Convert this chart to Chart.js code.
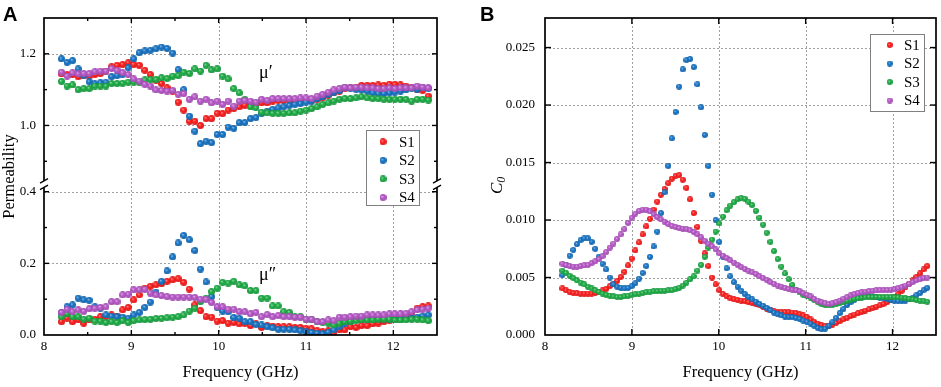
<!DOCTYPE html>
<html>
<head>
<meta charset="utf-8">
<script src="https://cdn.jsdelivr.net/npm/chart.js@4.4.0/dist/chart.umd.min.js"></script>
<style>
  html, body { margin: 0; padding: 0; background: #fff; }
  #wrap { position: relative; width: 941px; height: 387px; overflow: hidden; }
  #chartA { position: absolute; left: 0; top: 0; }
  #chartB { position: absolute; left: 470px; top: 0; }
</style>
</head>
<body>
<div id="wrap">
  <canvas id="chartA" width="470" height="387"></canvas>
  <canvas id="chartB" width="471" height="387"></canvas>
</div>
<script>
// series names / colours
const seriesNames = ['S1', 'S2', 'S3', 'S4'];
const seriesColors = ['#ff2222', '#1c78c8', '#22b04a', '#bb5ccc'];

// Panel A: frequency sweep (GHz)
const freqA = [
  8.2, 8.264, 8.327, 8.391, 8.455, 8.518, 8.582, 8.645, 8.709, 8.773, 8.836,
  8.9, 8.964, 9.027, 9.091, 9.155, 9.218, 9.282, 9.345, 9.409, 9.473, 9.536,
  9.6, 9.664, 9.727, 9.791, 9.855, 9.918, 9.982, 10.045, 10.109, 10.173, 10.236,
  10.3, 10.364, 10.427, 10.491, 10.555, 10.618, 10.682, 10.745, 10.809, 10.873, 10.936,
  11.0, 11.064, 11.127, 11.191, 11.255, 11.318, 11.382, 11.445, 11.509, 11.573, 11.636,
  11.7, 11.764, 11.827, 11.891, 11.955, 12.018, 12.082, 12.145, 12.209, 12.273, 12.336,
  12.4
];

// real part of permeability (mu')
const muRealS1 = [
  1.144, 1.142, 1.142, 1.136, 1.140, 1.138, 1.142, 1.145, 1.152, 1.164,
  1.168, 1.170, 1.175, 1.170, 1.168, 1.154, 1.142, 1.126, 1.117, 1.105,
  1.096, 1.065, 1.043, 1.012, 1.012, 1.000, 1.019, 1.019, 1.034, 1.033,
  1.043, 1.047, 1.052, 1.056, 1.061, 1.058, 1.063, 1.063, 1.068, 1.070,
  1.070, 1.071, 1.068, 1.070, 1.070, 1.071, 1.073, 1.077, 1.084, 1.091,
  1.096, 1.103, 1.105, 1.107, 1.112, 1.112, 1.112, 1.113, 1.112, 1.115,
  1.115, 1.113, 1.110, 1.107, 1.100, 1.098, 1.082
];
const muRealS2 = [
  1.186, 1.176, 1.181, 1.158, 1.140, 1.122, 1.116, 1.119, 1.121, 1.136,
  1.139, 1.143, 1.161, 1.186, 1.203, 1.208, 1.210, 1.214, 1.219, 1.215,
  1.202, 1.156, 1.100, 1.026, 0.984, 0.949, 0.956, 0.952, 0.975, 0.975,
  0.995, 0.992, 1.008, 1.008, 1.019, 1.022, 1.033, 1.040, 1.045, 1.049,
  1.052, 1.056, 1.059, 1.061, 1.065, 1.068, 1.075, 1.080, 1.087, 1.093,
  1.097, 1.105, 1.103, 1.101, 1.099, 1.096, 1.091, 1.089, 1.089, 1.091,
  1.093, 1.096, 1.099, 1.103, 1.101, 1.105, 1.103
];
const muRealS3 = [
  1.123, 1.110, 1.113, 1.100, 1.103, 1.103, 1.110, 1.110, 1.110, 1.117,
  1.117, 1.118, 1.121, 1.121, 1.121, 1.127, 1.128, 1.128, 1.133, 1.131,
  1.138, 1.139, 1.149, 1.145, 1.158, 1.152, 1.168, 1.155, 1.158, 1.138,
  1.130, 1.103, 1.091, 1.073, 1.052, 1.049, 1.037, 1.035, 1.034, 1.034,
  1.034, 1.035, 1.035, 1.040, 1.043, 1.047, 1.052, 1.059, 1.063, 1.068,
  1.073, 1.075, 1.075, 1.077, 1.080, 1.077, 1.075, 1.075, 1.073, 1.073,
  1.073, 1.073, 1.073, 1.068, 1.073, 1.073, 1.071
];
const muRealS4 = [
  1.149, 1.138, 1.147, 1.144, 1.145, 1.145, 1.150, 1.152, 1.152, 1.159,
  1.154, 1.147, 1.142, 1.130, 1.124, 1.115, 1.110, 1.099, 1.098, 1.096,
  1.098, 1.087, 1.089, 1.073, 1.080, 1.068, 1.073, 1.063, 1.068, 1.059,
  1.068, 1.054, 1.068, 1.070, 1.068, 1.065, 1.073, 1.070, 1.075, 1.075,
  1.075, 1.075, 1.075, 1.077, 1.077, 1.075, 1.082, 1.087, 1.093, 1.099,
  1.103, 1.107, 1.105, 1.107, 1.107, 1.105, 1.105, 1.103, 1.103, 1.105,
  1.103, 1.105, 1.105, 1.105, 1.110, 1.107, 1.105
];

// imaginary part of permeability (mu'')
const muImagS1 = [
  0.037, 0.047, 0.037, 0.042, 0.033, 0.042, 0.044, 0.051, 0.051, 0.056,
  0.053, 0.070, 0.077, 0.098, 0.112, 0.131, 0.136, 0.140, 0.143, 0.150,
  0.154, 0.157, 0.147, 0.128, 0.084, 0.068, 0.051, 0.050, 0.039, 0.040,
  0.033, 0.035, 0.031, 0.033, 0.026, 0.031, 0.021, 0.026, 0.025, 0.023,
  0.023, 0.023, 0.021, 0.021, 0.019, 0.017, 0.012, 0.009, 0.012, 0.005,
  0.014, 0.014, 0.023, 0.021, 0.026, 0.026, 0.031, 0.033, 0.037, 0.040,
  0.044, 0.047, 0.051, 0.061, 0.075, 0.079, 0.081
];
const muImagS2 = [
  0.062, 0.079, 0.084, 0.103, 0.098, 0.097, 0.079, 0.075, 0.056, 0.053,
  0.051, 0.050, 0.047, 0.056, 0.063, 0.077, 0.092, 0.120, 0.150, 0.179,
  0.218, 0.257, 0.278, 0.266, 0.236, 0.184, 0.148, 0.107, 0.077, 0.067,
  0.065, 0.049, 0.047, 0.037, 0.037, 0.030, 0.028, 0.023, 0.020, 0.016,
  0.016, 0.016, 0.014, 0.012, 0.009, 0.007, 0.005, 0.003, 0.008, 0.014,
  0.023, 0.033, 0.037, 0.042, 0.042, 0.043, 0.044, 0.045, 0.045, 0.044,
  0.043, 0.044, 0.045, 0.047, 0.050, 0.053, 0.056
];
const muImagS3 = [
  0.051, 0.059, 0.051, 0.051, 0.044, 0.047, 0.039, 0.039, 0.035, 0.037,
  0.035, 0.040, 0.035, 0.040, 0.042, 0.043, 0.044, 0.046, 0.047, 0.048,
  0.050, 0.051, 0.056, 0.067, 0.075, 0.093, 0.103, 0.121, 0.131, 0.147,
  0.145, 0.150, 0.140, 0.137, 0.124, 0.124, 0.103, 0.103, 0.081, 0.081,
  0.065, 0.063, 0.051, 0.051, 0.044, 0.042, 0.037, 0.035, 0.033, 0.028,
  0.033, 0.037, 0.039, 0.040, 0.042, 0.042, 0.042, 0.044, 0.044, 0.044,
  0.042, 0.042, 0.042, 0.044, 0.044, 0.042, 0.040
];
const muImagS4 = [
  0.063, 0.072, 0.065, 0.070, 0.066, 0.073, 0.075, 0.077, 0.079, 0.093,
  0.093, 0.112, 0.114, 0.126, 0.126, 0.128, 0.117, 0.112, 0.110, 0.107,
  0.106, 0.106, 0.106, 0.106, 0.105, 0.100, 0.100, 0.091, 0.079, 0.079,
  0.072, 0.072, 0.065, 0.065, 0.059, 0.063, 0.051, 0.057, 0.051, 0.054,
  0.051, 0.051, 0.050, 0.050, 0.044, 0.044, 0.037, 0.037, 0.042, 0.040,
  0.050, 0.050, 0.051, 0.053, 0.053, 0.056, 0.056, 0.056, 0.056, 0.059,
  0.059, 0.059, 0.061, 0.065, 0.070, 0.072, 0.075
];

// Panel B: frequency sweep (GHz)
const freqB = [
  8.200, 8.242, 8.284, 8.326, 8.368, 8.410, 8.452, 8.494, 8.536, 8.578,
  8.620, 8.662, 8.704, 8.746, 8.788, 8.830, 8.872, 8.914, 8.956, 8.998,
  9.040, 9.082, 9.124, 9.166, 9.208, 9.250, 9.292, 9.334, 9.376, 9.418,
  9.460, 9.502, 9.544, 9.586, 9.628, 9.670, 9.712, 9.754, 9.796, 9.838,
  9.880, 9.922, 9.964, 10.006, 10.048, 10.090, 10.132, 10.174, 10.216, 10.258,
  10.300, 10.342, 10.384, 10.426, 10.468, 10.510, 10.552, 10.594, 10.636, 10.678,
  10.720, 10.762, 10.804, 10.846, 10.888, 10.930, 10.972, 11.014, 11.056, 11.098,
  11.140, 11.182, 11.224, 11.266, 11.308, 11.350, 11.392, 11.434, 11.476, 11.518,
  11.560, 11.602, 11.644, 11.686, 11.728, 11.770, 11.812, 11.854, 11.896, 11.938,
  11.980, 12.022, 12.064, 12.106, 12.148, 12.190, 12.232, 12.274, 12.316, 12.358,
  12.400
];

// C0 values
const c0S1 = [
  0.00405, 0.00388, 0.00372, 0.00365, 0.00362, 0.00360, 0.00360, 0.00360, 0.00360, 0.00365,
  0.00375, 0.00388, 0.00400, 0.00425, 0.00445, 0.00470, 0.00505, 0.00550, 0.00605, 0.00665,
  0.00735, 0.00805, 0.00875, 0.00945, 0.01010, 0.01090, 0.01160, 0.01220, 0.01270, 0.01320,
  0.01360, 0.01385, 0.01390, 0.01350, 0.01280, 0.01180, 0.01060, 0.00940, 0.00820, 0.00710,
  0.00600, 0.00500, 0.00440, 0.00390, 0.00355, 0.00335, 0.00320, 0.00310, 0.00305, 0.00300,
  0.00295, 0.00285, 0.00280, 0.00270, 0.00260, 0.00245, 0.00230, 0.00215, 0.00205, 0.00200,
  0.00200, 0.00198, 0.00198, 0.00195, 0.00190, 0.00180, 0.00170, 0.00155, 0.00135, 0.00115,
  0.00098, 0.00085, 0.00078, 0.00080, 0.00090, 0.00105, 0.00120, 0.00135, 0.00150, 0.00165,
  0.00178, 0.00190, 0.00200, 0.00212, 0.00222, 0.00235, 0.00245, 0.00258, 0.00270, 0.00285,
  0.00305, 0.00330, 0.00355, 0.00385, 0.00415, 0.00445, 0.00475, 0.00505, 0.00535, 0.00570,
  0.00600
];
const c0S2 = [
  0.00520, 0.00610, 0.00690, 0.00740, 0.00790, 0.00825, 0.00840, 0.00840, 0.00810, 0.00750,
  0.00680, 0.00620, 0.00570, 0.00500, 0.00440, 0.00420, 0.00410, 0.00405, 0.00410, 0.00425,
  0.00450, 0.00490, 0.00540, 0.00600, 0.00680, 0.00770, 0.00900, 0.01060, 0.01240, 0.01470,
  0.01710, 0.01940, 0.02160, 0.02310, 0.02390, 0.02400, 0.02330, 0.02180, 0.01980, 0.01740,
  0.01470, 0.01220, 0.01000, 0.00810, 0.00680, 0.00580, 0.00510, 0.00460, 0.00420, 0.00385,
  0.00355, 0.00330, 0.00310, 0.00290, 0.00270, 0.00255, 0.00235, 0.00215, 0.00195, 0.00180,
  0.00170, 0.00160, 0.00155, 0.00155, 0.00150, 0.00140, 0.00125, 0.00115, 0.00100, 0.00080,
  0.00060, 0.00050, 0.00055, 0.00080, 0.00110, 0.00150, 0.00190, 0.00225, 0.00260, 0.00285,
  0.00305, 0.00320, 0.00330, 0.00335, 0.00335, 0.00330, 0.00330, 0.00325, 0.00320, 0.00315,
  0.00305, 0.00300, 0.00295, 0.00295, 0.00300, 0.00310, 0.00325, 0.00345, 0.00365, 0.00390,
  0.00410
];
const c0S3 = [
  0.00560, 0.00540, 0.00515, 0.00495, 0.00475, 0.00455, 0.00440, 0.00420, 0.00405, 0.00390,
  0.00375, 0.00360, 0.00350, 0.00342, 0.00335, 0.00332, 0.00330, 0.00335, 0.00340, 0.00350,
  0.00355, 0.00360, 0.00365, 0.00372, 0.00378, 0.00380, 0.00382, 0.00385, 0.00385, 0.00388,
  0.00390, 0.00400, 0.00410, 0.00430, 0.00455, 0.00485, 0.00510, 0.00560, 0.00610, 0.00680,
  0.00760, 0.00830, 0.00900, 0.00970, 0.01030, 0.01085, 0.01125, 0.01155, 0.01180, 0.01190,
  0.01185, 0.01160, 0.01130, 0.01080, 0.01020, 0.00960, 0.00890, 0.00810, 0.00730, 0.00660,
  0.00595, 0.00535, 0.00485, 0.00435, 0.00395, 0.00370, 0.00350, 0.00340, 0.00325, 0.00305,
  0.00285, 0.00270, 0.00260, 0.00258, 0.00260, 0.00268, 0.00278, 0.00288, 0.00298, 0.00308,
  0.00315, 0.00320, 0.00325, 0.00328, 0.00330, 0.00330, 0.00330, 0.00330, 0.00330, 0.00330,
  0.00330, 0.00330, 0.00328, 0.00325, 0.00320, 0.00315, 0.00310, 0.00305, 0.00300, 0.00295,
  0.00290
];
const c0S4 = [
  0.00620, 0.00610, 0.00600, 0.00595, 0.00595, 0.00600, 0.00605, 0.00610, 0.00625, 0.00640,
  0.00660, 0.00685, 0.00720, 0.00760, 0.00795, 0.00835, 0.00875, 0.00920, 0.00975, 0.01020,
  0.01055, 0.01080, 0.01090, 0.01090, 0.01075, 0.01050, 0.01025, 0.01005, 0.00985, 0.00965,
  0.00950, 0.00940, 0.00930, 0.00925, 0.00920, 0.00910, 0.00895, 0.00875, 0.00850, 0.00820,
  0.00795, 0.00770, 0.00745, 0.00710, 0.00690, 0.00670, 0.00650, 0.00630, 0.00610, 0.00590,
  0.00575, 0.00560, 0.00545, 0.00530, 0.00510, 0.00495, 0.00480, 0.00460, 0.00445, 0.00430,
  0.00420, 0.00410, 0.00400, 0.00395, 0.00390, 0.00380, 0.00365, 0.00350, 0.00335, 0.00315,
  0.00300, 0.00285, 0.00275, 0.00270, 0.00275, 0.00285, 0.00300, 0.00315, 0.00330, 0.00345,
  0.00355, 0.00365, 0.00372, 0.00378, 0.00382, 0.00385, 0.00388, 0.00390, 0.00392, 0.00393,
  0.00395, 0.00397, 0.00405, 0.00415, 0.00430, 0.00445, 0.00460, 0.00475, 0.00485, 0.00495,
  0.00500
];

// ticks
const xTicks = [8, 9, 10, 11, 12];
const xMinorA = [8.5, 9.5, 10.5, 11.5];
const topTicks = [1.0, 1.2];
const topMinor = [0.9, 1.1];
const botTicks = [0.0, 0.2, 0.4];
const botMinor = [0.1, 0.3];
const c0Ticks = [0, 0.005, 0.01, 0.015, 0.02, 0.025];

const SERIF = "'Liberation Serif', 'Times New Roman', serif";
const SANS = "'Liberation Sans', Arial, sans-serif";
const GRID = '#a0a0a0';

function mix(hex, other, t) {
  const p = h => [1, 3, 5].map(i => parseInt(h.substr(i, 2), 16));
  const a = p(hex), b = p(other);
  return 'rgb(' + a.map((v, i) => Math.round(v + (b[i] - v) * t)).join(',') + ')';
}

// small shaded ball used as marker
function sphere(hex, d) {
  const c = document.createElement('canvas');
  c.width = d; c.height = d;
  const g = c.getContext('2d');
  const r = d / 2;
  const grad = g.createRadialGradient(r * 0.75, r * 0.7, 0, r, r, r);
  grad.addColorStop(0, mix(hex, '#ffffff', 0.6));
  grad.addColorStop(0.4, hex);
  grad.addColorStop(1, mix(hex, '#000000', 0.15));
  g.fillStyle = grad;
  g.beginPath();
  g.arc(r, r, r, 0, Math.PI * 2);
  g.fill();
  return c;
}

const ballsA = seriesColors.map(c => sphere(c, 7));
const ballsB = seriesColors.map(c => sphere(c, 6));

function pairs(xs, ys) {
  return xs.map((x, i) => ({ x: x, y: ys[i] }));
}

function line(ctx, x1, y1, x2, y2) {
  ctx.beginPath();
  ctx.moveTo(x1, y1);
  ctx.lineTo(x2, y2);
  ctx.stroke();
}

function fixTicks(values) {
  return scale => { scale.ticks = values.map(v => ({ value: v })); };
}

// inward tick marks on all four sides
function tickMarks(ctx, a, xs, xVals, len) {
  xVals.forEach(v => {
    const px = xs.getPixelForValue(v);
    line(ctx, px, a.bottom, px, a.bottom - len);
    line(ctx, px, a.top, px, a.top + len);
  });
}
function yTickMarks(ctx, a, ys, yVals, len) {
  yVals.forEach(v => {
    const py = ys.getPixelForValue(v);
    line(ctx, a.left, py, a.left + len, py);
    line(ctx, a.right, py, a.right - len, py);
  });
}

function breakMark(ctx, x, y) {
  ctx.save();
  ctx.strokeStyle = '#fff';
  ctx.lineWidth = 4;
  line(ctx, x, y - 3.5, x, y + 2.5);
  ctx.strokeStyle = '#000';
  ctx.lineWidth = 1.3;
  line(ctx, x - 4, y - 1.5, x + 4, y - 6);
  line(ctx, x - 4, y + 5, x + 4, y + 0.5);
  ctx.restore();
}

function drawLegend(ctx, box, rowY, gap, markX, textX, balls) {
  ctx.save();
  ctx.fillStyle = '#fff';
  ctx.fillRect(box[0], box[1], box[2], box[3]);
  ctx.strokeStyle = '#808080';
  ctx.lineWidth = 1;
  ctx.strokeRect(box[0] + 0.5, box[1] + 0.5, box[2], box[3]);
  ctx.font = '15px ' + SERIF;
  ctx.fillStyle = '#000';
  ctx.textBaseline = 'middle';
  seriesNames.forEach((n, k) => {
    const y = rowY + k * gap;
    const b = balls[k];
    ctx.drawImage(b, markX - b.width / 2, y - b.height / 2);
    ctx.fillText(n, textX, y + 1);
  });
  ctx.restore();
}

const decorA = {
  id: 'decorA',
  beforeDatasetsDraw(chart) {
    const { ctx, chartArea: a, scales: s } = chart;
    ctx.save();
    ctx.strokeStyle = GRID;
    ctx.lineWidth = 1;
    ctx.setLineDash([2, 2]);
    xTicks.slice(1).forEach(v => {
      const px = Math.round(s.x.getPixelForValue(v)) + 0.5;
      line(ctx, px, a.top, px, a.bottom);
    });
    topTicks.forEach(v => {
      const py = Math.round(s.yTop.getPixelForValue(v)) + 0.5;
      line(ctx, a.left, py, a.right, py);
    });
    botTicks.slice(1).forEach(v => {
      const py = Math.round(s.yBot.getPixelForValue(v)) + 0.5;
      line(ctx, a.left, py, a.right, py);
    });
    ctx.restore();
  },
  afterDatasetsDraw(chart) {
    const { ctx, chartArea: a, scales: s } = chart;
    drawLegend(ctx, [a.right - 71, 130, 53, 75], 141.7, 18.6, a.right - 54, a.right - 38, ballsA);

    ctx.save();
    ctx.strokeStyle = '#000';
    ctx.lineWidth = 1.7;
    ctx.strokeRect(a.left, a.top, a.right - a.left, a.bottom - a.top);
    ctx.lineWidth = 1.4;
    tickMarks(ctx, a, s.x, xTicks.slice(1), 5);
    tickMarks(ctx, a, s.x, xMinorA, 3);
    yTickMarks(ctx, a, s.yTop, topTicks, 5);
    yTickMarks(ctx, a, s.yTop, topMinor, 3);
    yTickMarks(ctx, a, s.yBot, botTicks.slice(1), 5);
    yTickMarks(ctx, a, s.yBot, botMinor, 3);
    const yb = s.yBot.top;
    breakMark(ctx, a.left, yb);
    breakMark(ctx, a.right, yb);

    ctx.fillStyle = '#000';
    ctx.font = '18px ' + SERIF;
    ctx.textAlign = 'center';
    ctx.textBaseline = 'middle';
    ctx.fillText('\u03bc\u2032', s.x.getPixelForValue(10.54), s.yTop.getPixelForValue(1.145));
    ctx.fillText('\u03bc\u2033', s.x.getPixelForValue(10.56), s.yBot.getPixelForValue(0.168));

    ctx.save();
    ctx.translate(10, (a.top + a.bottom) / 2);
    ctx.rotate(-Math.PI / 2);
    ctx.font = '16.5px ' + SERIF;
    ctx.fillText('Permeability', 0, 0);
    ctx.restore();

    ctx.font = 'bold 20px ' + SANS;
    ctx.textAlign = 'left';
    ctx.textBaseline = 'alphabetic';
    ctx.fillText('A', 3, 21);
    ctx.restore();
  }
};

const decorB = {
  id: 'decorB',
  beforeDatasetsDraw(chart) {
    const { ctx, chartArea: a, scales: s } = chart;
    ctx.save();
    ctx.strokeStyle = GRID;
    ctx.lineWidth = 1;
    ctx.setLineDash([2, 2]);
    xTicks.slice(1).forEach(v => {
      const px = Math.round(s.x.getPixelForValue(v)) + 0.5;
      line(ctx, px, a.top, px, a.bottom);
    });
    c0Ticks.slice(1).forEach(v => {
      const py = Math.round(s.y.getPixelForValue(v)) + 0.5;
      line(ctx, a.left, py, a.right, py);
    });
    ctx.restore();
  },
  afterDatasetsDraw(chart) {
    const { ctx, chartArea: a, scales: s } = chart;
    drawLegend(ctx, [a.right - 66, 34, 54, 77], 45, 18.5, a.right - 46.3, a.right - 32, ballsB);

    ctx.save();
    ctx.strokeStyle = '#000';
    ctx.lineWidth = 1.7;
    ctx.strokeRect(a.left, a.top, a.right - a.left, a.bottom - a.top);
    ctx.lineWidth = 1.4;
    tickMarks(ctx, a, s.x, xTicks.slice(1), 6);
    yTickMarks(ctx, a, s.y, c0Ticks.slice(1), 6);

    ctx.fillStyle = '#000';
    ctx.save();
    ctx.translate(28, 186);
    ctx.rotate(-Math.PI / 2);
    ctx.textAlign = 'left';
    ctx.textBaseline = 'middle';
    ctx.font = 'italic 17px ' + SERIF;
    ctx.fillText('C', -8, 0);
    const w = ctx.measureText('C').width;
    ctx.font = 'italic 12px ' + SERIF;
    ctx.fillText('0', -8 + w, 4);
    ctx.restore();

    ctx.font = 'bold 20px ' + SANS;
    ctx.textAlign = 'left';
    ctx.textBaseline = 'alphabetic';
    ctx.fillText('B', 10, 21);
    ctx.restore();
  }
};

function xScale() {
  return {
    type: 'linear',
    min: 8,
    max: 12.5,
    afterBuildTicks: fixTicks(xTicks),
    afterFit: sc => { sc.height = 52; },
    ticks: { color: '#000', font: { family: SERIF, size: 13 }, padding: 4, autoSkip: false, maxRotation: 0,
             callback: v => String(v) },
    grid: { display: false, drawTicks: false },
    border: { display: false },
    title: { display: true, text: 'Frequency (GHz)', color: '#000',
             font: { family: SERIF, size: 16.5 }, padding: { top: 0, bottom: 4 } }
  };
}

function yScale(extra, values, digits, width, pad) {
  return Object.assign({
    type: 'linear',
    position: 'left',
    afterBuildTicks: fixTicks(values),
    afterFit: sc => { sc.width = width; },
    ticks: { color: '#000', font: { family: SERIF, size: 13 }, padding: pad,
             callback: v => v.toFixed(digits) },
    grid: { display: false, drawTicks: false },
    border: { display: false }
  }, extra);
}

const dsA = [];
seriesNames.forEach((n, k) => {
  dsA.push({ label: n, data: pairs(freqA, [muRealS1, muRealS2, muRealS3, muRealS4][k]), yAxisID: 'yTop',
             pointStyle: ballsA[k], order: 3 - k, showLine: false });
});
seriesNames.forEach((n, k) => {
  dsA.push({ label: n, data: pairs(freqA, [muImagS1, muImagS2, muImagS3, muImagS4][k]), yAxisID: 'yBot',
             pointStyle: ballsA[k], order: 3 - k, showLine: false });
});

new Chart(document.getElementById('chartA'), {
  type: 'scatter',
  data: { datasets: dsA },
  options: {
    responsive: false,
    animation: false,
    events: [],
    layout: { padding: { left: 0, right: 33, top: 18, bottom: 0 } },
    plugins: { legend: { display: false }, tooltip: { enabled: false } },
    scales: {
      x: xScale(),
      yTop: yScale({ min: 0.835, max: 1.3, stack: 'perm', stackWeight: 0.465, weight: 1 }, topTicks, 1, 44, 8),
      yBot: yScale({ min: 0, max: 0.42, stack: 'perm', stackWeight: 0.42, weight: 0 }, botTicks, 1, 44, 8)
    }
  },
  plugins: [decorA]
});

const c0Series = [c0S1, c0S2, c0S3, c0S4];
new Chart(document.getElementById('chartB'), {
  type: 'scatter',
  data: {
    datasets: seriesNames.map((n, k) => ({
      label: n, data: pairs(freqB, c0Series[k]), pointStyle: ballsB[k], order: 3 - k, showLine: false
    }))
  },
  options: {
    responsive: false,
    animation: false,
    events: [],
    layout: { padding: { left: 0, right: 4, top: 18, bottom: 0 } },
    plugins: { legend: { display: false }, tooltip: { enabled: false } },
    scales: {
      x: xScale(),
      y: yScale({ min: 0, max: 0.02757 }, c0Ticks, 3, 75, 10)
    }
  },
  plugins: [decorB]
});
</script>
</body>
</html>
